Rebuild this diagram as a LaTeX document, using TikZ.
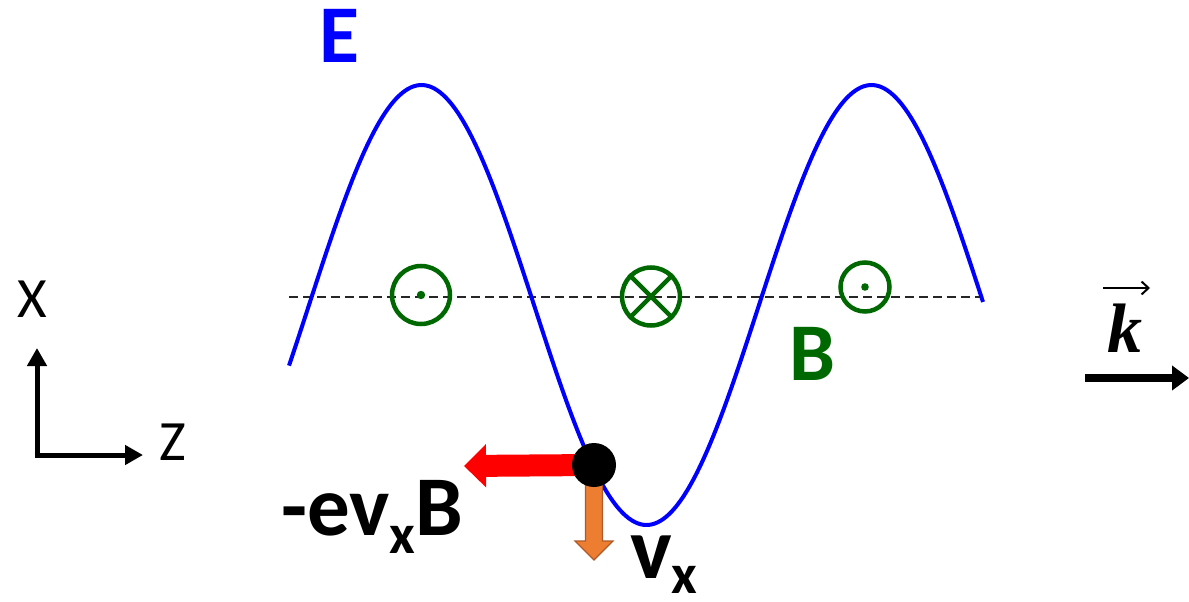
\documentclass[tikz,border=0pt]{standalone}
\usepackage{fontspec}
\setmainfont{Carlito}
\newfontfamily\kfont{Liberation Serif}
\usetikzlibrary{arrows.meta,calc}
\definecolor{bgreen}{RGB}{0,104,0}
\definecolor{eblue}{RGB}{0,0,255}
\definecolor{vorange}{RGB}{237,125,49}
\definecolor{vborder}{RGB}{174,90,40}
\tikzset{
  wave/.style={eblue, line width=4pt},
  axisline/.style={black!85, dash pattern=on 9pt off 5pt, line width=1.3pt},
  bcirc/.style={circle, draw=bgreen, line width=4.5pt, inner sep=0pt},
  bigarrow/.style={black, line width=5pt, -{Triangle[length=18pt,width=19pt]}},
  karrow/.style={black, line width=8pt, -{Triangle[length=17pt,width=24pt]}},
  forcearrow/.style={red, line width=22pt, -{Triangle[length=22pt,width=42pt]}},
  lbl/.style={inner sep=0pt, anchor=base},
  charge/.style={circle, fill=black, minimum size=44pt, inner sep=0pt}
}
\begin{document}
\begin{tikzpicture}[x=1pt,y=-1pt]
\useasboundingbox (0,0) rectangle (1189,602);
% dashed axis
\coordinate (d1) at (289,297);
\coordinate (d2) at (983,297);
\draw[axisline] (d1) -- (d2);
% E wave
\draw[wave] plot[domain=289:983, samples=240, smooth] (\x, {305 - 220*sin(0.8*(\x-309))});
% B symbols
\node[bcirc, minimum size=58pt] (b1) at (421,295) {};
\fill[bgreen] (b1.center) circle (4.2);
\node[bcirc, minimum size=58pt] (b2) at (651,296.5) {};
\draw[bgreen, line width=4.5pt] (b2.north east) -- (b2.south west);
\draw[bgreen, line width=4.5pt] (b2.north west) -- (b2.south east);
\node[bcirc, minimum size=49pt] (b3) at (865,287) {};
\fill[bgreen] (b3.center) circle (3.8);
% labels
\node[lbl, text=eblue] (E) at (339,63) {\fontsize{82}{82}\selectfont\bfseries E};
\node[lbl, text=bgreen] (B) at (812,380) {\fontsize{82}{82}\selectfont\bfseries B};
% axes
\coordinate (o) at (37,455);
\coordinate (xt) at (37,348);
\coordinate (zt) at (143,455);
\draw[bigarrow] ($(o)+(0,2.5)$) -- (xt);
\draw[bigarrow] ($(o)+(-2.5,0)$) -- (zt);
\node[lbl] (X) at (32,317) {\fontsize{57}{57}\selectfont X};
\node[lbl] (Z) at (173,460) {\fontsize{57}{57}\selectfont Z};
% charge and forces
\coordinate (q) at (594,465);
\coordinate (ft) at (464,466);
\draw[forcearrow] (q) -- (ft);
\filldraw[fill=vorange, draw=vborder, line width=1.2pt]
  (585.5,480) -- (602.5,480) -- (602.5,541) -- (613,541) -- (594,560)
  -- (575,541) -- (585.5,541) -- cycle;
\node[charge] (qd) at (q) {};
\node[lbl] (F) at (372,535) {\fontsize{85}{85}\selectfont\bfseries -ev\raisebox{-18pt}{\fontsize{56}{56}\selectfont x}B};
\node[lbl] (V) at (664,578) {\fontsize{88}{88}\selectfont\bfseries v\raisebox{-15pt}{\fontsize{56}{56}\selectfont x}};
% k vector
\node[lbl] (K) at (1125,352) {\fontsize{70}{70}\selectfont\kfont\bfseries\itshape k};
\coordinate (ka) at (1103,288);
\coordinate (kb) at (1150,288);
\draw[line width=2pt, -{Straight Barb[length=7pt,width=13pt]}] (ka) -- (kb);
\coordinate (k1) at (1085,378);
\coordinate (k2) at (1189,378);
\draw[karrow] (k1) -- (k2);
\end{tikzpicture}
\end{document}
